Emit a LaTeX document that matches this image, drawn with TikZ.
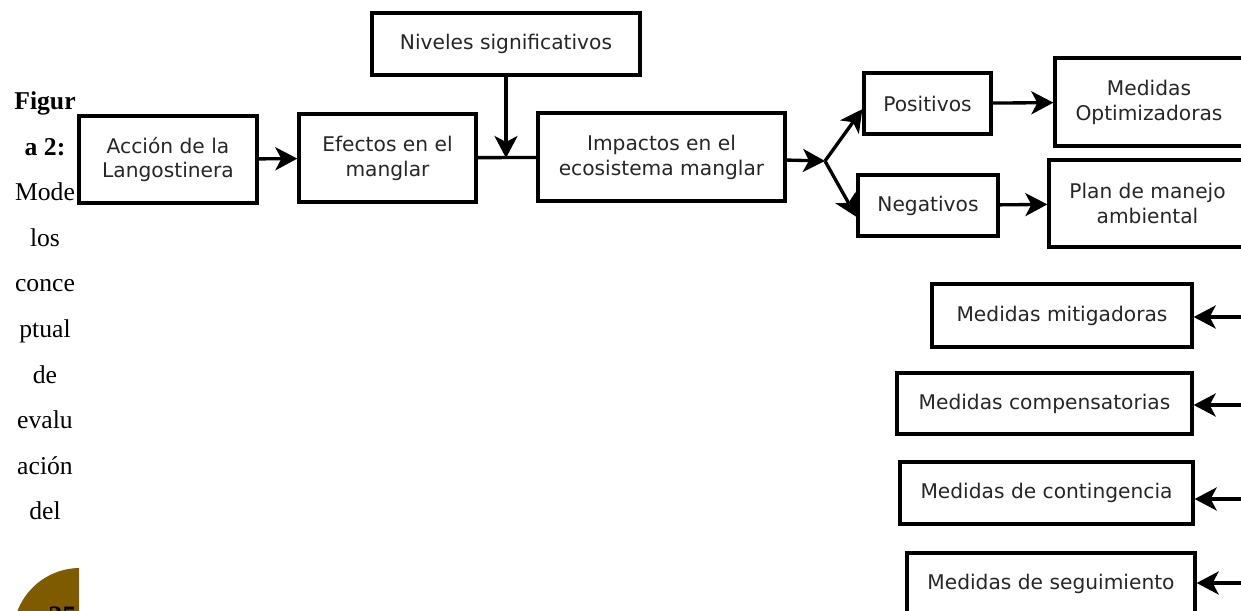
\documentclass[tikz,border=0pt]{standalone}
\usepackage{fontspec}
\setmainfont{Liberation Serif}
\newfontfamily\boxfont{DejaVu Sans}
\usetikzlibrary{arrows.meta}
\usetikzlibrary{positioning}
\definecolor{ochre}{RGB}{127,91,0}
\tikzset{
  block/.style={draw, line width=1.9pt, inner sep=0pt, align=center, text=black!85,
    font=\boxfont\fontsize{11.5}{14.2}\selectfont},
  link/.style={line width=1.9pt, -{Stealth[length=0.44cm, width=0.46cm, inset=0.12cm]}},
  capline/.style={anchor=base, inner sep=0pt, font=\fontsize{14.6}{17}\selectfont}
}

\begin{document}
\begin{tikzpicture}[x=0.02cm, y=-0.02cm]
	\useasboundingbox (0,0) rectangle (1241,611);
	\clip (0,0) rectangle (1241,611);

	% Caption column
	\foreach \word [count=\i] in {\textbf{Figur}, \textbf{a 2:}, Mode, los, conce, ptual, de, evalu, ación, del}
		\node[capline] (cap\i) at (45, {110+(\i-1)*45.5}) {\word};

	% Page badge
	\begin{scope}
		\clip (0,540) rectangle (79,611);
		\fill[ochre] (80,635) circle[radius=1.34cm];
		\node[anchor=north west, inner sep=0pt, font=\bfseries\fontsize{16}{18}\selectfont] (pagenum) at (48,607) {25};
	\end{scope}

	% Nodes
	\node[block, minimum width=5.36cm, minimum height=1.24cm] (niveles) at (506,44) {Niveles significativos};
	\node[block, minimum width=3.56cm, minimum height=1.74cm] (accion) at (168,159.5) {Acción de la\\Langostinera};
	\node[block, minimum width=3.54cm, minimum height=1.76cm] (efectos) at (387.5,158) {Efectos en el\\manglar};
	\node[block, minimum width=4.94cm, minimum height=1.76cm] (impactos) at (661.5,157) {Impactos en el\\ecosistema manglar};
	\node[block, minimum width=2.54cm, minimum height=1.22cm] (positivos) at (927.5,103.5) {Positivos};
	\node[block, minimum width=2.80cm, minimum height=1.22cm] (negativos) at (928,205.5) {Negativos};
	\node[block, minimum width=3.76cm, minimum height=1.76cm] (optim) at (1149,102) {Medidas\\Optimizadoras};
	\node[block, minimum width=3.94cm, minimum height=1.74cm] (plan) at (1147.5,203.5) {Plan de manejo\\ambiental};
	\node[block, minimum width=5.20cm, minimum height=1.26cm] (mitig) at (1062,315.5) {Medidas mitigadoras};
	\node[block, minimum width=5.90cm, minimum height=1.22cm] (compens) at (1044.5,403.5) {Medidas compensatorias};
	\node[block, minimum width=5.86cm, minimum height=1.24cm] (conting) at (1046.5,493) {Medidas de contingencia};
	\node[block, minimum width=5.76cm, minimum height=1.24cm] (seguim) at (1051,584) {Medidas de seguimiento};

	% Edges
	\coordinate (junc) at (506,158);
	\coordinate (split) at (825,161);
	\draw[link] (accion) -- (efectos);
	\draw[line width=1.9pt] (efectos) -- (impactos);
	\draw[link] (niveles) -- (junc);
	\draw[link] (impactos) -- (split);
	\draw[link] (split) -- (positivos.185);
	\draw[link] (split) -- (negativos.189);
	\draw[link] (positivos) -- (optim);
	\draw[link] (negativos) -- (plan);

	% Feeds from the right
	\coordinate (in1) at (1250,317);
	\coordinate (in2) at (1250,405);
	\coordinate (in3) at (1250,499);
	\coordinate (in4) at (1250,583);
	\draw[link] (in1) -- (mitig.east |- in1);
	\draw[link] (in2) -- (compens.east |- in2);
	\draw[link] (in3) -- (conting.east |- in3);
	\draw[link] (in4) -- (seguim.east |- in4);
\end{tikzpicture}
\end{document}
